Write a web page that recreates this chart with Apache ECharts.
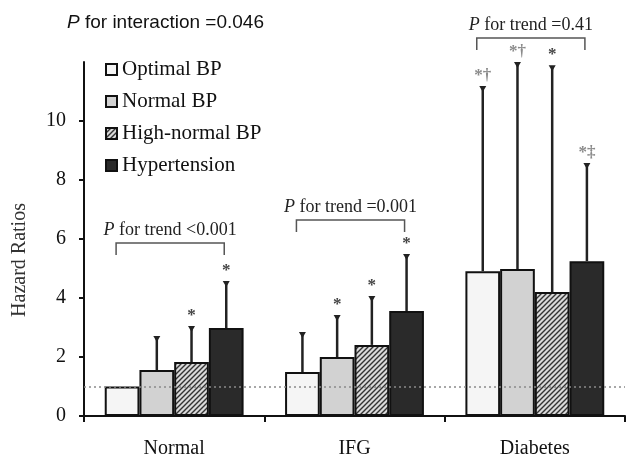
<!DOCTYPE html>
<html>
<head>
<meta charset="utf-8">
<script src="https://cdn.jsdelivr.net/npm/echarts@6/dist/echarts.min.js"></script>
<style>
html, body { margin: 0; padding: 0; background: #fff; }
#main { width: 627px; height: 461px; }
</style>
</head>
<body>
<div id="main"></div>
<script>
//分组
var categories = ['Normal', 'IFG', 'Diabetes'];
var bpLevels = ['Optimal BP', 'Normal BP', 'High-normal BP', 'Hypertension'];
//风险比
var hrOptimal = [1.0, 1.49, 4.91];
var hrNormal = [1.56, 2.0, 4.98];
var hrHighNormal = [1.83, 2.41, 4.2];
var hrHypertension = [2.98, 3.56, 5.25];
//置信区间上限
var ciOptimal = [null, 2.81, 11.15];
var ciNormal = [2.68, 3.39, 11.97];
var ciHighNormal = [3.02, 4.03, 11.86];
var ciHypertension = [4.54, 5.46, 8.54];
//显著性标记
var markOptimal = ['', '', '*†'];
var markNormal = ['', '*', '*†'];
var markHighNormal = ['*', '*', '*'];
var markHypertension = ['*', '*', '*‡'];
//P值
var trendP = ['<0.001', '=0.001', '=0.41'];
var interactionP = '=0.046';
var yTicks = [0, 2, 4, 6, 8, 10];
var refHR = 1;

var hrAll = [hrOptimal, hrNormal, hrHighNormal, hrHypertension];
var ciAll = [ciOptimal, ciNormal, ciHighNormal, ciHypertension];
var markAll = [markOptimal, markNormal, markHighNormal, markHypertension];

var SERIF = '"Liberation Serif", "Times New Roman", serif';
var SANS = '"Liberation Sans", Arial, sans-serif';
var gapRatio = 0.23;
var bracketLift = [39, 35, 25];

//斜线填充
function hatch() {
	var c = document.createElement('canvas');
	c.width = 5;
	c.height = 5;
	var ctx = c.getContext('2d');
	ctx.fillStyle = '#dadada';
	ctx.fillRect(0, 0, 5, 5);
	ctx.strokeStyle = '#333';
	ctx.lineWidth = 1.4;
	ctx.beginPath();
	ctx.moveTo(-1, 6); ctx.lineTo(6, -1);
	ctx.moveTo(-1, 1); ctx.lineTo(1, -1);
	ctx.moveTo(4, 6); ctx.lineTo(6, 4);
	ctx.stroke();
	return c;
}

var fills = ['#f5f5f5', '#d2d2d2', { image: hatch(), repeat: 'repeat' }, '#2a2a2a'];

var series = [];
for(var l = 0; l < 4; l++) {
	var s = {
		name: bpLevels[l],
		type: 'bar',
		data: hrAll[l],
		barGap: '0%',
		barCategoryGap: (gapRatio * 100) + '%',
		itemStyle: {
			color: fills[l],
			borderColor: '#111',
			borderWidth: 2
		},
		emphasis: { disabled: true }
	};
	if(l == 0) {
		s.markLine = {
			silent: true,
			symbol: 'none',
			z: 10,
			label: { show: false },
			lineStyle: { type: [2, 3], color: '#8a8a8a', width: 1.5 },
			data: [{ yAxis: refHR }]
		};
	}
	series.push(s);
}

//误差线数据
var errData = [];
for(var l = 0; l < 4; l++) {
	for(var c = 0; c < categories.length; c++) {
		if(ciAll[l][c] != null) {
			errData.push([c, l, hrAll[l][c], ciAll[l][c]]);
		}
	}
}

series.push({
	type: 'custom',
	z: 5,
	silent: true,
	encode: { x: 0, y: 3 },
	data: errData,
	renderItem: function(params, api) {
		var c = api.value(0), l = api.value(1);
		var base = api.coord([c, api.value(2)]);
		var top = api.coord([c, api.value(3)]);
		var w = api.size([1, 0])[0] * (1 - gapRatio) / 4;
		var x = base[0] + (l - 1.5) * w;
		var mark = markAll[l][c];
		var children = [{
			type: 'line',
			shape: { x1: x, y1: base[1], x2: x, y2: top[1] },
			style: { stroke: '#222', lineWidth: 2.5 }
		}, {
			type: 'polygon',
			shape: { points: [[x - 3.5, top[1] - 1], [x + 3.5, top[1] - 1], [x, top[1] + 5]] },
			style: { fill: '#222' }
		}];
		if(mark) {
			children.push({
				type: 'text',
				x: x,
				y: top[1] - 3,
				style: {
					text: mark,
					fill: mark.length > 1 ? '#8a8a8a' : '#444',
					font: 'bold 17px ' + SERIF,
					align: 'center',
					verticalAlign: 'bottom'
				}
			});
		}
		return { type: 'group', children: children };
	}
});

//趋势括号
var bracketData = [];
for(var c = 0; c < categories.length; c++) {
	var mx = 0;
	for(var l = 0; l < 4; l++) {
		if(ciAll[l][c] != null && ciAll[l][c] > mx) mx = ciAll[l][c];
	}
	bracketData.push([c, mx]);
}

series.push({
	type: 'custom',
	silent: true,
	clip: false,
	encode: { x: 0, y: 1 },
	data: bracketData,
	renderItem: function(params, api) {
		var c = api.value(0);
		var p = api.coord([c, api.value(1)]);
		var w = api.size([1, 0])[0] * (1 - gapRatio) / 4;
		var x1 = p[0] - 1.5 * w - 6;
		var x2 = p[0] + 1.5 * w - 2;
		var y = p[1] - bracketLift[c];
		return {
			type: 'group',
			children: [{
				type: 'polyline',
				shape: { points: [[x1, y + 12], [x1, y], [x2, y], [x2, y + 12]] },
				style: { stroke: '#555', lineWidth: 1.5, fill: null }
			}, {
				type: 'text',
				x: (x1 + x2) / 2,
				y: y - 4,
				style: {
					text: '{i|P} for trend ' + trendP[c],
					font: '18px ' + SERIF,
					fill: '#222',
					align: 'center',
					verticalAlign: 'bottom',
					rich: { i: { fontStyle: 'italic', fontSize: 18, fontFamily: SERIF } }
				}
			}]
		};
	}
});

var myChart = echarts.init(document.getElementById('main'));
var option = {
	animation: false,
	backgroundColor: '#fff',
	title: {
		text: '{i|P} for interaction ' + interactionP,
		left: 62,
		top: 8,
		textStyle: {
			fontFamily: SANS,
			fontSize: 19,
			fontWeight: 'normal',
			color: '#111',
			rich: { i: { fontStyle: 'italic', fontSize: 19, fontFamily: SANS } }
		}
	},
	legend: {
		data: bpLevels,
		orient: 'vertical',
		icon: 'rect',
		left: 100,
		top: 54,
		itemWidth: 11,
		itemHeight: 11,
		itemGap: 11,
		selectedMode: false,
		textStyle: { fontFamily: SERIF, fontSize: 21, color: '#111' }
	},
	graphic: [{
		type: 'text',
		x: 20,
		y: 260,
		rotation: Math.PI / 2,
		style: {
			text: 'Hazard Ratios',
			font: '20px ' + SERIF,
			fill: '#333',
			align: 'center',
			verticalAlign: 'middle'
		}
	}],
	grid: { left: 84, right: 2, top: 62, bottom: 45 },
	xAxis: {
		type: 'category',
		data: categories,
		axisLine: { lineStyle: { color: '#111', width: 2 } },
		axisTick: { show: true, length: 6, lineStyle: { color: '#111', width: 2 } },
		axisLabel: { fontFamily: SERIF, fontSize: 20, color: '#111', margin: 23 }
	},
	yAxis: {
		type: 'value',
		min: 0,
		max: 12,
		interval: 2,
		splitLine: { show: false },
		axisLine: { show: true, lineStyle: { color: '#111', width: 2 } },
		axisTick: { show: true, length: 5, customValues: yTicks, lineStyle: { color: '#111', width: 2 } },
		axisLabel: { customValues: yTicks, fontFamily: SERIF, fontSize: 20, color: '#111', margin: 18 }
	},
	series: series
};
myChart.setOption(option);
</script>
</body>
</html>
